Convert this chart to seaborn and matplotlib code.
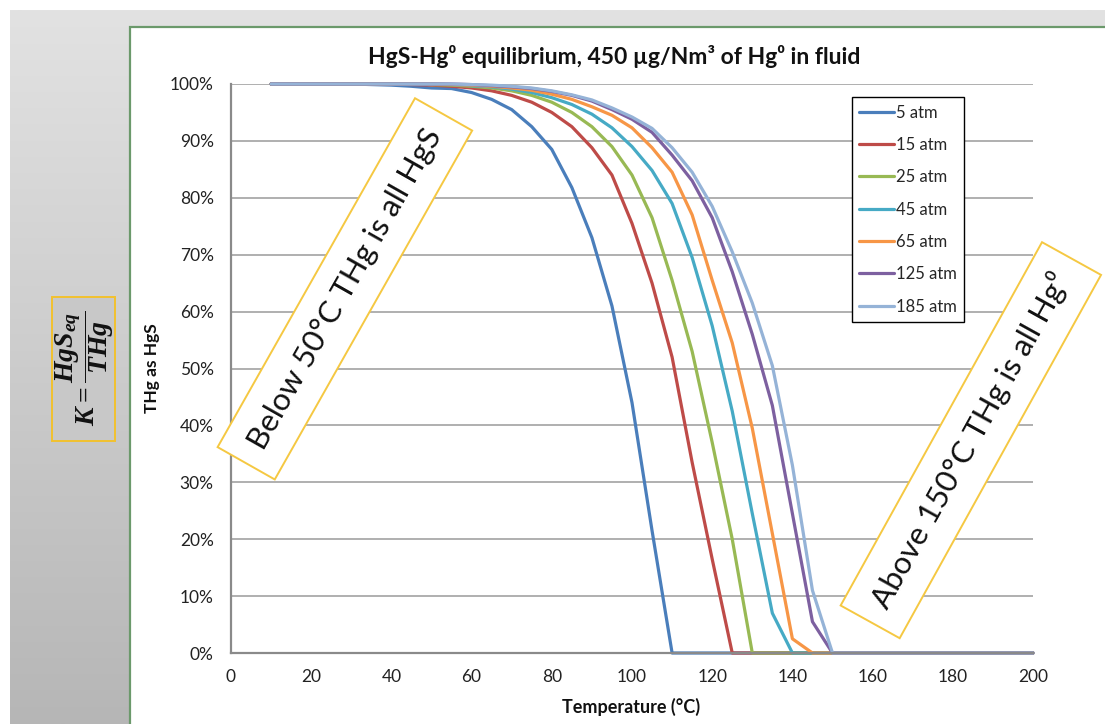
import numpy as np
import pandas as pd
import matplotlib
matplotlib.use("Agg")
import matplotlib.pyplot as plt
import seaborn as sns
from matplotlib.patches import Rectangle
from matplotlib.colors import LinearSegmentedColormap

# ---------------- data ----------------
temps = [10, 15, 20, 25, 30, 35, 40, 45, 50, 55, 60, 65, 70, 75, 80, 85, 90, 95, 100,
         105, 110, 115, 120, 125, 130, 135, 140, 145, 150, 155, 160, 165, 170, 175,
         180, 185, 190, 195, 200]

atm5 = [100, 100, 100, 100, 100, 99.9, 99.8, 99.6, 99.3, 99.2, 98.5, 97.3, 95.5, 92.5,
        88.5, 81.8, 73, 61, 44, 21.5, 0, 0, 0, 0, 0, 0, 0, 0, 0, 0, 0, 0, 0, 0, 0, 0, 0, 0, 0]
atm15 = [100, 100, 100, 100, 100, 100, 100, 99.9, 99.8, 99.6, 99.3, 98.8, 98, 96.8, 95,
         92.5, 88.8, 84, 75.5, 65, 52, 33.5, 16.5, 0, 0, 0, 0, 0, 0, 0, 0, 0, 0, 0, 0, 0, 0, 0, 0]
atm25 = [100, 100, 100, 100, 100, 100, 100, 100, 99.9, 99.8, 99.6, 99.3, 98.8, 98, 96.8,
         95, 92.5, 89, 84, 76.5, 65.5, 53, 37, 20, 0, 0, 0, 0, 0, 0, 0, 0, 0, 0, 0, 0, 0, 0, 0]
atm45 = [100, 100, 100, 100, 100, 100, 100, 100, 100, 99.9, 99.7, 99.5, 99.1, 98.5, 97.6,
         96.4, 94.7, 92.3, 89, 84.8, 79, 69.5, 57.5, 42.5, 24.5, 7, 0, 0, 0, 0, 0, 0, 0, 0, 0, 0, 0, 0, 0]
atm65 = [100, 100, 100, 100, 100, 100, 100, 100, 100, 99.9, 99.8, 99.6, 99.3, 98.9, 98.2,
         97.3, 96, 94.5, 92.3, 88.8, 84.5, 77, 65.5, 54.5, 39.5, 21, 2.5, 0, 0, 0, 0, 0, 0, 0, 0, 0, 0, 0, 0]
atm125 = [100, 100, 100, 100, 100, 100, 100, 100, 100, 100, 99.9, 99.7, 99.5, 99.2, 98.7,
          98, 97, 95.5, 93.8, 91.5, 87.5, 83, 76.5, 67, 56, 43.5, 24.5, 5.5, 0, 0, 0, 0, 0, 0, 0, 0, 0, 0, 0]
atm185 = [100, 100, 100, 100, 100, 100, 100, 100, 100, 100, 99.9, 99.8, 99.6, 99.3, 98.8,
          98.1, 97.2, 95.8, 94.2, 92.2, 88.8, 84.5, 78.5, 70.5, 61.5, 50.5, 33, 11, 0, 0, 0, 0, 0, 0, 0, 0, 0, 0, 0]

series_names = ["5 atm", "15 atm", "25 atm", "45 atm", "65 atm", "125 atm", "185 atm"]
series_values = [atm5, atm15, atm25, atm45, atm65, atm125, atm185]
colors = ["#4A7EBB", "#BE4B48", "#98B954", "#46AAC5", "#F79646", "#7D60A0", "#95B3D7"]
yticks = [0, 10, 20, 30, 40, 50, 60, 70, 80, 90, 100]
xticks = [0, 20, 40, 60, 80, 100, 120, 140, 160, 180, 200]

title = "HgS-Hg\u2070 equilibrium, 450 \u00b5g/Nm\u00b3 of Hg\u2070 in fluid"
xlabel = "Temperature (\u00b0C)"
ylabel = "THg as HgS"
note_left = "Below 50\u00b0C THg is all HgS"
note_right = "Above 150\u00b0C THg is all Hg\u2070"

df = pd.concat(
    [pd.DataFrame({"Temperature": temps, "value": v, "series": n})
     for n, v in zip(series_names, series_values)],
    ignore_index=True)

# ---------------- style ----------------
sns.set_theme(style="white")
plt.rcParams["font.family"] = ["Lato", "DejaVu Sans"]
plt.rcParams["mathtext.fontset"] = "custom"
plt.rcParams["mathtext.rm"] = "Liberation Serif:bold"
plt.rcParams["mathtext.it"] = "Liberation Serif:italic:bold"
plt.rcParams["mathtext.bf"] = "Liberation Serif:bold"

W, H = 1105, 724
fig = plt.figure(figsize=(W / 100, H / 100), dpi=100)
fig.patch.set_facecolor("white")

def fx(px):
    return px / W

def fy(py):
    return 1 - py / H

# background gradient panel
bg = fig.add_axes([fx(10), 0, 1 - fx(10), fy(10)], zorder=-10)
grad = np.linspace(0, 1, 256).reshape(-1, 1)
cmap = LinearSegmentedColormap.from_list("g", ["#e2e2e2", "#b6b6b6"])
bg.imshow(grad, aspect="auto", cmap=cmap, extent=[0, 1, 0, 1])
bg.axis("off")

# chart area (white with green border)
fig.patches.append(Rectangle((fx(130), -0.01), 1.0, fy(27) + 0.01, transform=fig.transFigure,
                             facecolor="white", edgecolor="#6b996b", lw=1.6, zorder=-5))

# formula box
fig.patches.append(Rectangle((fx(52), fy(441)), fx(115) - fx(52), fy(297) - fy(441),
                             transform=fig.transFigure, facecolor="#c8c8c8",
                             edgecolor="#F2C12E", lw=1.4, zorder=-4))
fig.text(fx(85), fy(368), r"$K = \dfrac{HgS_{eq}}{THg}$", rotation=90, ha="center",
         va="center", fontsize=20, color="#111111")

# main axes
ax = fig.add_axes([fx(231), fy(653), fx(1033) - fx(231), fy(84) - fy(653)])
ax.set_facecolor("white")
sns.lineplot(data=df, x="Temperature", y="value", hue="series", hue_order=series_names,
             palette=colors, linewidth=2.3, ax=ax, estimator=None, sort=False)
for ln in ax.lines:
    ln.set_clip_on(False)
    ln.set_solid_joinstyle("round")

ax.set_xlim(0, 200)
ax.set_ylim(0, 100)
ax.set_xticks(xticks)
ax.set_yticks(yticks)
ax.set_yticklabels([f"{v}%" for v in yticks])
ax.set_xlabel("")
ax.set_ylabel("")
ax.yaxis.grid(True, color="#a9a9a9", lw=1.3)
ax.xaxis.grid(False)
ax.set_axisbelow(True)
for s in ["top", "right"]:
    ax.spines[s].set_visible(False)
for s in ["left", "bottom"]:
    ax.spines[s].set_color("#8a8a8a")
    ax.spines[s].set_linewidth(1.6)
ax.tick_params(axis="both", direction="out", length=4.5, width=1.2, color="#8a8a8a",
               labelsize=12.5, labelcolor="#222222")
ax.tick_params(axis="y", pad=8)
ax.tick_params(axis="x", pad=7)

handles, labels = ax.get_legend_handles_labels()
leg = ax.legend(handles, labels, loc="upper left", bbox_to_anchor=(0.774, 0.977),
                frameon=True, fancybox=False, edgecolor="black", fontsize=12,
                handlelength=2.1, handletextpad=0.1, labelspacing=0.98,
                borderpad=0.45, borderaxespad=0)
leg.get_frame().set_linewidth(1.0)
leg.get_frame().set_facecolor("white")
leg.get_frame().set_alpha(1)

# texts
fig.text(fx(614), fy(57), title, ha="center", va="center", fontsize=16.5,
         fontweight="bold", color="#111111")
fig.text(fx(631), fy(707), xlabel, ha="center", va="center", fontsize=13,
         fontweight="bold", color="#111111")
fig.text(fx(152), fy(368), ylabel, ha="center", va="center", rotation=90, fontsize=12.5,
         fontweight="bold", color="#111111")

box_kw = dict(boxstyle="square,pad=0.6", facecolor="white", edgecolor="#F5C842", lw=1.4)
ax.text(28.4, 64, note_left, rotation=60.5, rotation_mode="anchor", ha="center",
        va="center", fontsize=22.5, color="#111111", bbox=box_kw, clip_on=False, zorder=5)
ax.text(184.5, 37.4, note_right, rotation=61, rotation_mode="anchor", ha="center",
        va="center", fontsize=22.5, color="#111111", bbox=box_kw, clip_on=False, zorder=5)

fig.savefig("out.png", dpi=100)
